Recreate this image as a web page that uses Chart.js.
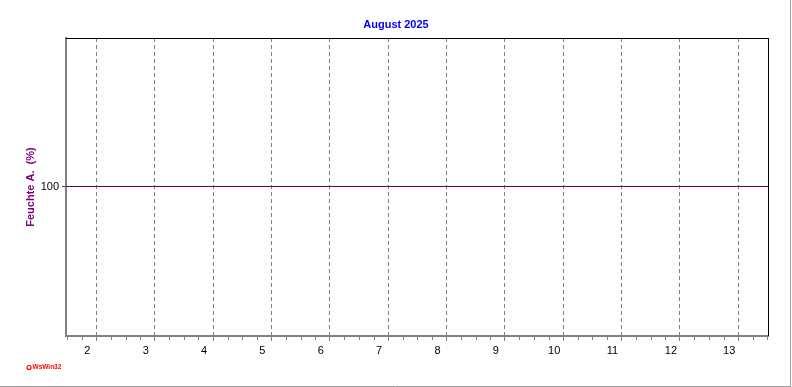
<!DOCTYPE html>
<html><head><meta charset="utf-8">
<script src="https://cdn.jsdelivr.net/npm/chart.js@4"></script>
<style>html,body{margin:0;padding:0;background:#fff;overflow:hidden}canvas{display:block}</style>
</head><body>
<canvas id="c" width="792" height="387"></canvas>
<script>
// ---- data ----
const chartTitle = 'August 2025';
const yAxisTitle = 'Feuchte A.  (%)';
const dayTicks = [2, 3, 4, 5, 6, 7, 8, 9, 10, 11, 12, 13];
const dayLabels = ['2', '3', '4', '5', '6', '7', '8', '9', '10', '11', '12', '13'];
const timeDays = [1.48, 2, 3, 4, 5, 6, 7, 8, 9, 10, 11, 12, 13, 13.51];
const humidity = [100, 100, 100, 100, 100, 100, 100, 100, 100, 100, 100, 100, 100, 100];
const yTicks = [100];
const xRange = [1.48, 13.51];
const yRange = [90, 109.93];
const minorStep = 0.25;
const creditText = 'WsWin32';

const FONT = "'Liberation Sans', Arial, sans-serif";

const framePlugin = {
  id: 'frame',
  afterDraw(chart) {
    const {ctx, chartArea: a} = chart;
    const xs = chart.scales.x;
    ctx.save();
    // black top/right border
    ctx.strokeStyle = '#000';
    ctx.lineWidth = 1;
    ctx.beginPath();
    ctx.moveTo(a.left, a.top + 0.5);
    ctx.lineTo(a.right + 1, a.top + 0.5);
    ctx.moveTo(a.right + 0.5, a.top);
    ctx.lineTo(a.right + 0.5, a.bottom);
    ctx.stroke();
    // minor ticks
    ctx.strokeStyle = '#808080';
    ctx.beginPath();
    const start = Math.ceil(xRange[0] / minorStep) * minorStep;
    for (let v = start; v <= xRange[1] + 1e-9; v += minorStep) {
      if (Math.abs(v - Math.round(v)) < 1e-9) continue;
      const px = Math.round(xs.getPixelForValue(v)) + 0.5;
      ctx.moveTo(px, a.bottom + 1);
      ctx.lineTo(px, a.bottom + 4);
    }
    ctx.stroke();
    // outer window frame
    ctx.strokeStyle = '#a0a0a0';
    ctx.beginPath();
    ctx.moveTo(790.5, 0);
    ctx.lineTo(790.5, 387);
    ctx.moveTo(0, 386.5);
    ctx.lineTo(791, 386.5);
    ctx.stroke();
    // credit
    ctx.strokeStyle = '#ff0000';
    ctx.fillStyle = '#ff0000';
    ctx.lineWidth = 1.2;
    ctx.beginPath();
    ctx.arc(29, 367.5, 2, 0, Math.PI * 2);
    ctx.stroke();
    ctx.font = 'bold 6.5px ' + FONT;
    ctx.textBaseline = 'middle';
    ctx.textAlign = 'left';
    ctx.fillText(creditText, 32.5, 367.5);
    ctx.restore();
  }
};

new Chart(document.getElementById('c'), {
  type: 'line',
  data: {
    datasets: [{
      label: yAxisTitle,
      data: timeDays.map((t, i) => ({x: t, y: humidity[i]})),
      borderColor: '#500050',
      borderWidth: 1,
      pointRadius: 0,
      fill: false,
      tension: 0
    }]
  },
  options: {
    responsive: false,
    animation: false,
    devicePixelRatio: 1,
    layout: {padding: {left: 0, right: 0, top: 0, bottom: 0}},
    plugins: {
      legend: {display: false},
      tooltip: {enabled: false},
      title: {
        display: true,
        text: chartTitle,
        color: '#0000ff',
        font: {family: FONT, size: 11, weight: 'bold'},
        padding: {top: 18, bottom: 6.8}
      }
    },
    scales: {
      x: {
        type: 'linear',
        min: xRange[0],
        max: xRange[1],
        afterBuildTicks: s => { s.ticks = dayTicks.map(v => ({value: v})); },
        afterFit: s => { s.height = 51; },
        ticks: {
          color: '#000',
          font: {family: FONT, size: 11},
          padding: 3,
          labelOffset: -9,
          maxRotation: 0,
          autoSkip: false,
          callback: (v) => dayLabels[dayTicks.indexOf(v)]
        },
        grid: {
          color: '#808080',
          lineWidth: 1,
          drawOnChartArea: true,
          drawTicks: true,
          tickLength: 5,
          tickColor: '#808080',
          tickBorderDash: [4, 3]
        },
        border: {display: true, color: '#808080', width: 2, dash: [4, 3]}
      },
      y: {
        type: 'linear',
        min: yRange[0],
        max: yRange[1],
        afterBuildTicks: s => { s.ticks = yTicks.map(v => ({value: v})); },
        afterFit: s => { s.width = 66; },
        ticks: {
          color: '#000',
          font: {family: FONT, size: 11},
          padding: 3
        },
        grid: {
          drawOnChartArea: false,
          drawTicks: true,
          tickLength: 4,
          tickColor: '#404040'
        },
        border: {display: true, color: '#808080', width: 2},
        title: {
          display: true,
          text: yAxisTitle,
          color: '#800080',
          font: {family: FONT, size: 11, weight: 'bold'},
          padding: {top: 24, bottom: 0}
        }
      },
      yRight: {
        type: 'linear',
        position: 'right',
        display: true,
        min: yRange[0],
        max: yRange[1],
        afterFit: s => { s.width = 24; },
        ticks: {display: false},
        grid: {display: false, drawOnChartArea: false, drawTicks: false},
        border: {display: false}
      }
    }
  },
  plugins: [framePlugin]
});
</script>
</body></html>
